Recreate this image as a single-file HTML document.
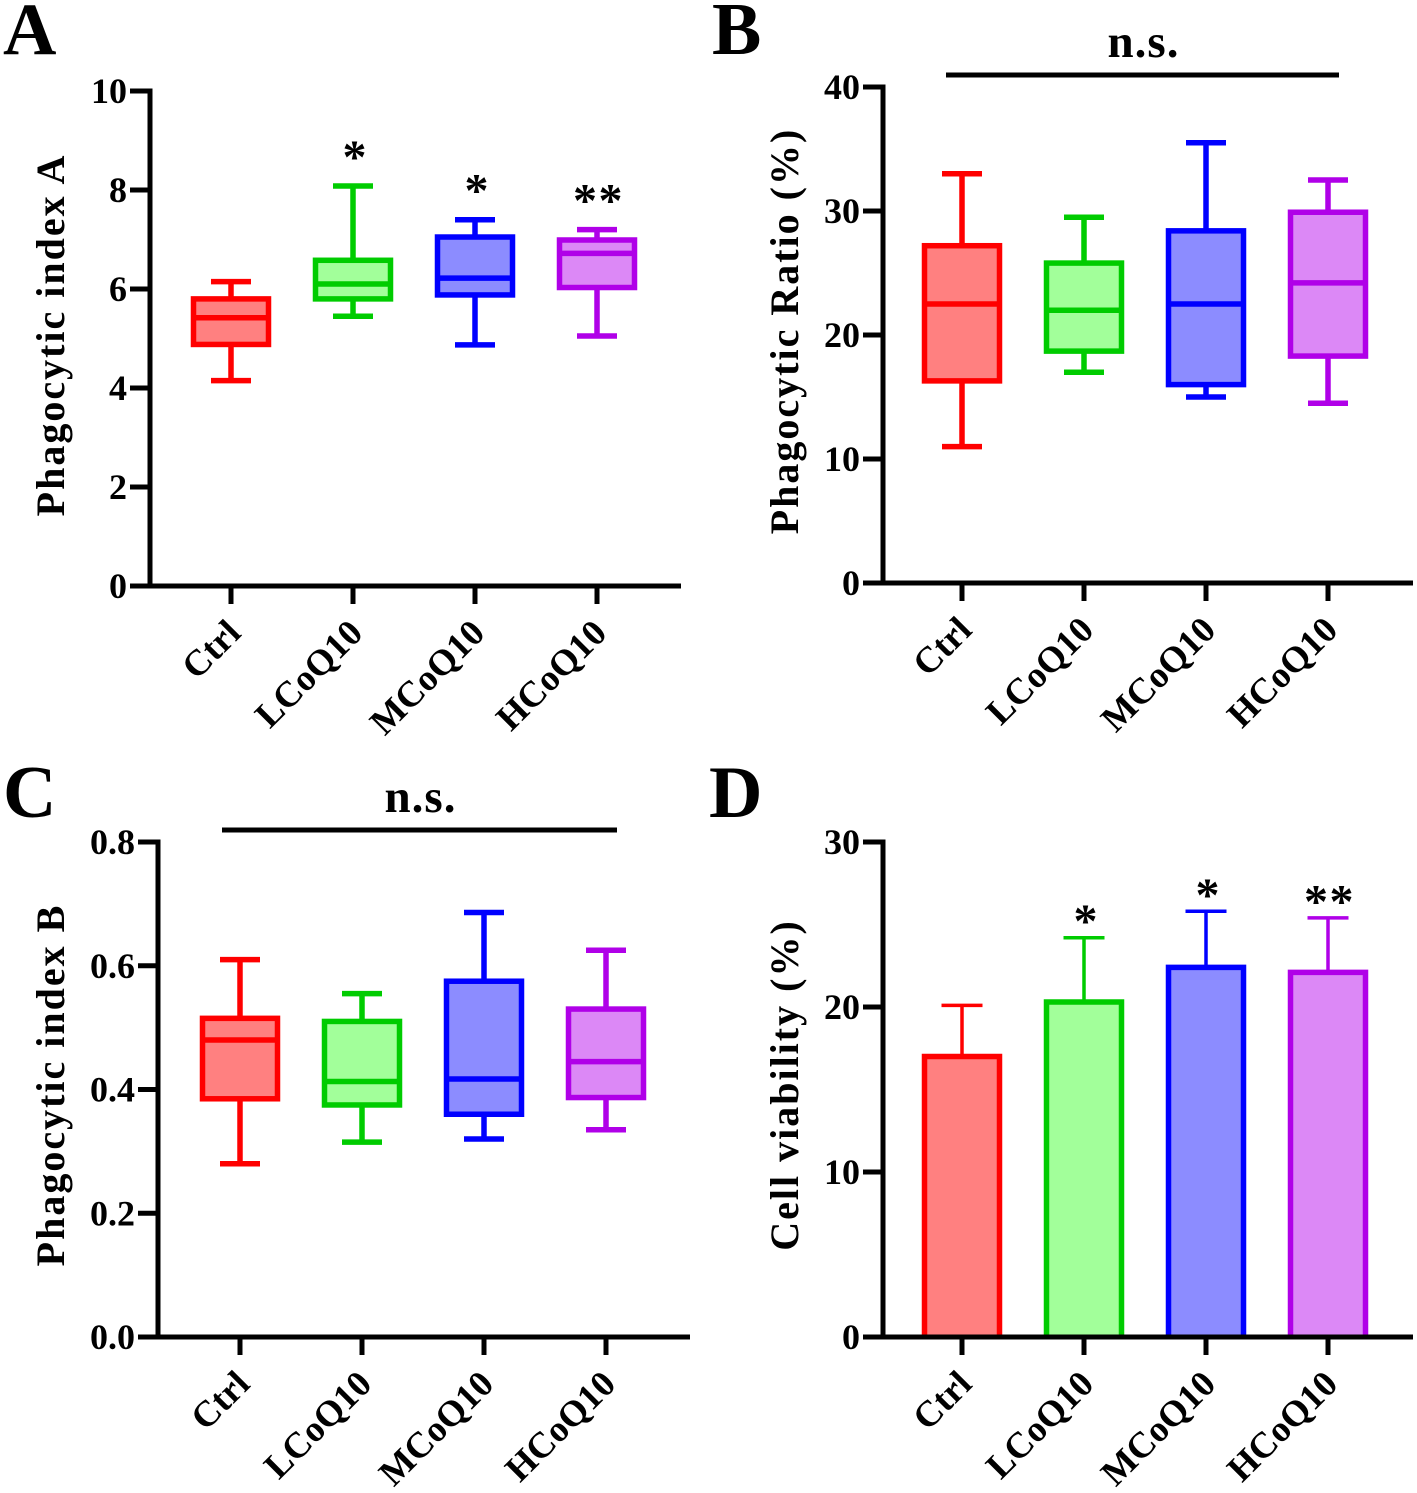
<!DOCTYPE html>
<html>
<head>
<meta charset="utf-8">
<style>
html,body{margin:0;padding:0;background:#fff;}
svg{display:block;}
text{font-family:"Liberation Serif",serif;font-weight:bold;fill:#000;}
</style>
</head>
<body>
<svg id="fig" width="1417" height="1493" viewBox="0 0 1417 1493" xmlns="http://www.w3.org/2000/svg"></svg>
<script>
const categories = ["Ctrl", "LCoQ10", "MCoQ10", "HCoQ10"];
const strokeColors = ["#ff0000", "#00cc00", "#0000ff", "#b000e8"];
const fillColors = ["#ff8080", "#a2ff9a", "#8c8cff", "#dc88f6"];

const panelAMin = [4.15, 5.45, 4.87, 5.05];
const panelAQ1 = [4.88, 5.8, 5.88, 6.03];
const panelAMedian = [5.42, 6.1, 6.22, 6.72];
const panelAQ3 = [5.8, 6.58, 7.05, 6.99];
const panelAMax = [6.15, 8.08, 7.4, 7.2];
const panelATicks = ["0", "2", "4", "6", "8", "10"];
const panelASignif = ["", "*", "*", "**"];

const panelBMin = [11, 17, 15, 14.5];
const panelBQ1 = [16.3, 18.7, 16, 18.3];
const panelBMedian = [22.5, 22, 22.5, 24.2];
const panelBQ3 = [27.2, 25.8, 28.4, 29.9];
const panelBMax = [33, 29.5, 35.5, 32.5];
const panelBTicks = ["0", "10", "20", "30", "40"];

const panelCMin = [0.28, 0.315, 0.32, 0.335];
const panelCQ1 = [0.385, 0.375, 0.36, 0.387];
const panelCMedian = [0.48, 0.413, 0.417, 0.445];
const panelCQ3 = [0.515, 0.51, 0.575, 0.53];
const panelCMax = [0.61, 0.555, 0.686, 0.625];
const panelCTicks = ["0.0", "0.2", "0.4", "0.6", "0.8"];

const panelDMean = [17, 20.3, 22.4, 22.1];
const panelDErrorTop = [20.1, 24.2, 25.8, 25.4];
const panelDTicks = ["0", "10", "20", "30"];
const panelDSignif = ["", "*", "*", "**"];

const NS = "http://www.w3.org/2000/svg";
const fig = document.getElementById("fig");

function mk(tag, attrs, parent, txt) {
  const el = document.createElementNS(NS, tag);
  for (const k in attrs) el.setAttribute(k, attrs[k]);
  if (txt !== undefined) el.textContent = txt;
  (parent || fig).appendChild(el);
  return el;
}

function drawAxes(g, o) {
  const y = v => o.y0 + (o.y1 - o.y0) * (v - o.vmin) / (o.vmax - o.vmin);
  const x = i => o.xStart + i * o.xStep;
  const yAxis = mk("line", {x1: o.ax, x2: o.ax, y1: o.y0 + 2.5, y2: o.y1 - 2.5, stroke: "#000", "stroke-width": 5}, g);
  
  
  const xAxis = mk("line", {x1: o.ax - 2.5, x2: o.axEnd, y1: o.y0, y2: o.y0, stroke: "#000", "stroke-width": 5}, g);
  
  
  o.ticks.forEach((t, i) => {
    const v = o.vmin + (o.vmax - o.vmin) * i / (o.ticks.length - 1);
    const tick = mk("line", {x1: o.ax - 20, x2: o.ax, y1: y(v), y2: y(v), stroke: "#000", "stroke-width": 5}, g);
    
    
    const lab = mk("text", {x: o.ax - 23, y: y(v) + 12, "text-anchor": "end", "font-size": 36}, g, t);
    
    
  });
  categories.forEach((c, i) => {
    const tick = mk("line", {x1: x(i), x2: x(i), y1: o.y0, y2: o.y0 + 18, stroke: "#000", "stroke-width": 5}, g);
    
    
    const lx = x(i) + 11.5, ly = o.y0 + 49;
    const lab = mk("text", {x: lx, y: ly, "text-anchor": "end", "font-size": 36.5, transform: "rotate(-45 " + lx + " " + ly + ")"}, g, c);
    
    
  });
  const title = mk("text", {x: o.titleX, y: o.titleY, "text-anchor": "middle", "font-size": 40, "letter-spacing": "2",
    transform: "rotate(-90 " + o.titleX + " " + o.titleY + ")"}, g, o.title);
  
  
  const letter = mk("text", {x: o.letterX, y: o.letterY, "font-size": 74}, g, o.letter);
  
  
  return {x, y};
}

function drawBoxes(g, s, mins, q1s, meds, q3s, maxs) {
  const hw = 37.5, cap = 20;
  categories.forEach((c, i) => {
    const cx = s.x(i), col = strokeColors[i];
    const box = mk("g", {}, g);
    
    
    const lw = 5.5;
    mk("line", {x1: cx, x2: cx, y1: s.y(maxs[i]), y2: s.y(q3s[i]), stroke: col, "stroke-width": lw}, box);
    mk("line", {x1: cx, x2: cx, y1: s.y(q1s[i]), y2: s.y(mins[i]), stroke: col, "stroke-width": lw}, box);
    mk("line", {x1: cx - cap, x2: cx + cap, y1: s.y(maxs[i]), y2: s.y(maxs[i]), stroke: col, "stroke-width": lw}, box);
    mk("line", {x1: cx - cap, x2: cx + cap, y1: s.y(mins[i]), y2: s.y(mins[i]), stroke: col, "stroke-width": lw}, box);
    mk("rect", {x: cx - hw, width: 2 * hw, y: s.y(q3s[i]), height: s.y(q1s[i]) - s.y(q3s[i]), fill: fillColors[i], stroke: col, "stroke-width": lw}, box);
    mk("line", {x1: cx - hw, x2: cx + hw, y1: s.y(meds[i]), y2: s.y(meds[i]), stroke: col, "stroke-width": lw}, box);
  });
}

function drawSignif(g, s, marks, tops, offset) {
  marks.forEach((m, i) => {
    if (!m) return;
    const t = mk("text", {x: s.x(i) + 1.5, y: s.y(tops[i]) - offset, "text-anchor": "middle", "font-size": 48, "letter-spacing": m.length > 1 ? "1.5" : "0"}, g, m);
    
    
  });
}

function drawNs(g, x1, x2, y, ty) {
  const l = mk("line", {x1: x1, x2: x2, y1: y, y2: y, stroke: "#000", "stroke-width": 5}, g);
  
  
  const t = mk("text", {x: (x1 + x2) / 2 + 1, y: ty, "text-anchor": "middle", "font-size": 47, "letter-spacing": "1"}, g, "n.s.");
  
  
}

/* Panel A */
const gA = mk("g", {});


const sA = drawAxes(gA, {ax: 150, axEnd: 681, y0: 586, y1: 91, vmin: 0, vmax: 10, ticks: panelATicks, xStart: 231, xStep: 122,
  title: "Phagocytic index A", titleX: 64, titleY: 335, letter: "A", letterX: 3, letterY: 54});
drawBoxes(gA, sA, panelAMin, panelAQ1, panelAMedian, panelAQ3, panelAMax);
drawSignif(gA, sA, panelASignif, panelAMax, 13);

/* Panel B */
const gB = mk("g", {});


const sB = drawAxes(gB, {ax: 883, axEnd: 1413, y0: 583, y1: 87, vmin: 0, vmax: 40, ticks: panelBTicks, xStart: 962, xStep: 122,
  title: "Phagocytic Ratio (%)", titleX: 798, titleY: 331, letter: "B", letterX: 712, letterY: 54});
drawBoxes(gB, sB, panelBMin, panelBQ1, panelBMedian, panelBQ3, panelBMax);
drawNs(gB, 946, 1339, 75, 57);

/* Panel C */
const gC = mk("g", {});


const sC = drawAxes(gC, {ax: 158, axEnd: 690, y0: 1337, y1: 842, vmin: 0, vmax: 0.8, ticks: panelCTicks, xStart: 240, xStep: 122,
  title: "Phagocytic index B", titleX: 64, titleY: 1085, letter: "C", letterX: 3, letterY: 817});
drawBoxes(gC, sC, panelCMin, panelCQ1, panelCMedian, panelCQ3, panelCMax);
drawNs(gC, 222, 617, 830, 812);

/* Panel D */
const gD = mk("g", {});


const sD = drawAxes(gD, {ax: 883, axEnd: 1413, y0: 1337, y1: 842, vmin: 0, vmax: 30, ticks: panelDTicks, xStart: 962, xStep: 122,
  title: "Cell viability (%)", titleX: 798, titleY: 1085, letter: "D", letterX: 709, letterY: 817});
categories.forEach((c, i) => {
  const cx = sD.x(i), col = strokeColors[i], hw = 37.5;
  const top = sD.y(panelDMean[i]), base = sD.y(0) - 2.5;
  const bar = mk("g", {}, gD);
  
  
  mk("line", {x1: cx, x2: cx, y1: sD.y(panelDErrorTop[i]), y2: top, stroke: col, "stroke-width": 3.5}, bar);
  mk("line", {x1: cx - 20.5, x2: cx + 20.5, y1: sD.y(panelDErrorTop[i]), y2: sD.y(panelDErrorTop[i]), stroke: col, "stroke-width": 3.5}, bar);
  mk("rect", {x: cx - hw, width: 2 * hw, y: top, height: base - top, fill: fillColors[i]}, bar);
  mk("path", {d: "M" + (cx - hw) + " " + base + "V" + top + "H" + (cx + hw) + "V" + base, fill: "none", stroke: col, "stroke-width": 5.5}, bar);
});
drawSignif(gD, sD, panelDSignif, panelDErrorTop, 0.5);
</script>
</body>
</html>
